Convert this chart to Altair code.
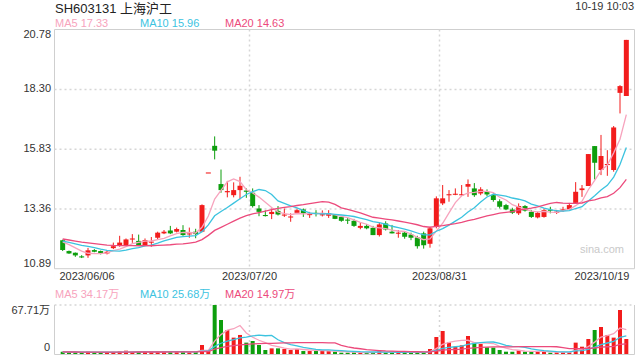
import altair as alt
import pandas as pd

# ---------------- data ----------------
pre_close = [12.35, 12.30, 12.28, 12.25, 12.20, 12.18, 12.15, 12.12, 12.10, 12.08,
             12.10, 12.05, 12.02, 12.06, 12.10, 12.12, 12.08, 12.05, 12.10]
pre_vol = [3.5, 3.0, 2.8, 3.2, 2.5, 2.7, 3.0, 2.6, 2.4, 2.8,
           3.0, 2.5, 2.7, 2.9, 3.1, 2.6, 2.4, 2.8, 3.0]

opens = [12.07, 11.62, 11.55, 11.40, 11.44, 11.66, 11.62, 11.52, 11.74, 11.86,
         11.86, 12.10, 12.04, 11.86, 11.98, 12.17, 12.35, 12.47, 12.42, 12.49,
         12.33, 12.42, 12.42, 14.87, 15.97, 14.39, 14.05, 13.93, 14.14, 14.12,
         14.03, 13.38, 13.11, 13.15, 13.28, 13.09, 13.03, 13.20, 13.34, 13.13,
         13.20, 13.12, 13.08, 13.11, 13.03, 12.92, 12.87, 12.58, 12.66, 12.58,
         12.28, 12.76, 12.42, 12.35, 12.38, 12.30, 12.18, 12.35, 11.92, 12.62,
         13.59, 13.95, 13.97, 13.95, 14.28, 14.21, 14.00, 14.07, 13.93, 13.68,
         13.52, 13.34, 13.18, 13.48, 13.24, 13.01, 13.03, 13.33, 13.22, 13.31,
         13.34, 13.61, 14.14, 14.31, 15.96, 14.97, 15.20, 14.97, 18.16, 18.03]
highs = [12.09, 11.64, 11.56, 11.45, 11.75, 11.70, 11.64, 11.66, 11.97, 12.25,
         12.14, 12.32, 12.30, 12.14, 12.20, 12.42, 12.49, 12.66, 12.59, 12.69,
         12.59, 12.54, 13.55, 14.87, 16.36, 14.99, 14.52, 14.46, 14.69, 14.21,
         14.21, 13.52, 13.30, 13.38, 13.48, 13.38, 13.18, 13.38, 13.38, 13.24,
         13.31, 13.30, 13.31, 13.13, 13.07, 13.00, 12.95, 12.78, 12.74, 12.66,
         12.78, 12.85, 12.70, 12.49, 12.45, 12.38, 12.25, 12.42, 12.62, 13.88,
         14.35, 14.14, 14.21, 14.35, 14.58, 14.43, 14.26, 14.17, 14.00, 13.76,
         13.57, 13.41, 13.59, 13.52, 13.31, 13.24, 13.38, 13.45, 13.32, 13.45,
         13.61, 14.47, 14.35, 15.63, 15.96, 16.42, 15.79, 16.79, 18.48, 20.35]
lows = [11.62, 11.50, 11.38, 11.33, 11.34, 11.57, 11.48, 11.48, 11.70, 11.80,
        11.82, 11.96, 11.84, 11.82, 11.80, 12.10, 12.32, 12.32, 12.39, 12.25,
        12.17, 12.15, 12.40, 14.87, 15.41, 14.03, 13.84, 13.84, 13.76, 13.82,
        13.42, 13.06, 13.05, 12.94, 13.09, 13.03, 12.83, 13.15, 13.03, 12.99,
        13.05, 13.05, 12.99, 12.94, 12.83, 12.74, 12.62, 12.52, 12.52, 12.28,
        12.22, 12.47, 12.35, 12.17, 12.13, 12.07, 11.72, 11.72, 11.76, 12.56,
        13.52, 13.66, 13.93, 13.89, 13.86, 13.86, 13.93, 13.89, 13.66, 13.38,
        13.31, 13.15, 13.11, 13.25, 12.99, 12.97, 13.00, 13.18, 13.15, 13.24,
        13.31, 13.59, 13.86, 14.31, 14.58, 14.76, 14.73, 14.90, 17.31, 18.03]
closes = [11.66, 11.52, 11.44, 11.37, 11.65, 11.59, 11.53, 11.59, 11.82, 11.97,
          12.10, 12.14, 11.86, 12.07, 12.01, 12.38, 12.42, 12.35, 12.53, 12.28,
          12.35, 12.32, 13.52, 14.87, 15.77, 14.14, 14.10, 14.14, 14.32, 14.07,
          13.48, 13.24, 13.08, 13.24, 13.13, 13.13, 13.05, 13.31, 13.18, 13.15,
          13.15, 13.14, 13.18, 12.95, 12.87, 12.89, 12.66, 12.66, 12.56, 12.28,
          12.72, 12.51, 12.35, 12.38, 12.21, 12.17, 11.82, 11.86, 12.56, 13.80,
          13.80, 13.97, 13.99, 13.97, 14.39, 13.93, 14.17, 13.96, 13.73, 13.45,
          13.34, 13.20, 13.48, 13.29, 13.03, 13.20, 13.31, 13.30, 13.25, 13.34,
          13.52, 14.07, 14.21, 15.63, 15.27, 15.55, 15.22, 16.73, 18.44, 20.35]
vols = [3.0, 2.5, 2.3, 1.8, 3.2, 2.0, 2.0, 1.8, 2.8, 3.5,
        4.6, 2.8, 3.2, 2.8, 2.6, 3.5, 2.8, 3.0, 3.2, 3.5,
        2.3, 2.8, 12.4, 4.1, 67.71, 47.0, 33.2, 22.6, 26.3, 15.7,
        18.0, 12.4, 5.5, 7.8, 7.8, 6.9, 5.5, 6.9, 4.1, 4.1,
        4.1, 4.6, 4.1, 3.2, 1.8, 1.8, 2.3, 1.8, 2.3, 1.8,
        5.1, 2.3, 2.3, 2.3, 2.3, 2.3, 2.3, 2.3, 6.9, 23.5,
        31.8, 16.1, 10.1, 12.0, 24.9, 15.7, 13.8, 9.2, 8.8, 5.5,
        3.2, 3.2, 5.1, 3.2, 3.2, 3.2, 3.2, 1.8, 2.3, 2.3,
        2.3, 15.7, 10.1, 20.7, 33.2, 37.3, 26.3, 22.6, 60.8, 20.7]

price_ticks = [10.89, 13.36, 15.83, 18.30, 20.78]
price_tick_labels = ["10.89", "13.36", "15.83", "18.30", "20.78"]
vol_ticks = [0, 67.71]
vol_tick_labels = ["0", "67.71万"]
date_idx = [0, 30, 60, 89]
date_labels = ["2023/06/06", "2023/07/20", "2023/08/31", "2023/10/19"]

title_text = "SH603131 上海沪工"
time_text = "10-19 10:03"
ma_price_labels = ["MA5 17.33", "MA10 15.96", "MA20 14.63"]
ma_vol_labels = ["MA5 34.17万", "MA10 25.68万", "MA20 14.97万"]

# ---------------- style ----------------
RED = "#f21c1c"
GREEN = "#0d9e0d"
MA_COLORS = ["#f7a3bd", "#3cc3df", "#ec4a7c"]
FONT = "Liberation Sans, Noto Sans CJK SC, sans-serif"
GRID = "#d6d6d6"
FRAME = "#cfcfcf"
TXT = "#333333"

n_pre = len(pre_close)
n = len(closes)
df = pd.DataFrame({
    "idx": list(range(-n_pre, 0)) + list(range(n)),
    "open": [None] * n_pre + opens,
    "high": [None] * n_pre + highs,
    "low": [None] * n_pre + lows,
    "close": pre_close + closes,
    "vol": pre_vol + vols,
})

X = alt.Scale(domain=[-0.5, n - 0.5], range=[54.5, 634.5], nice=False, zero=False)
YP = alt.Scale(domain=[price_ticks[0], price_ticks[-1]], range=[268.7, 29.5], nice=False, zero=False)
YV = alt.Scale(domain=[vol_ticks[0], vol_ticks[-1]], range=[354, 305], nice=False, zero=False)

base = (
    alt.Chart(df)
    .transform_window(ma5="mean(close)", vma5="mean(vol)", frame=[-4, 0], sort=[alt.SortField("idx")])
    .transform_window(ma10="mean(close)", vma10="mean(vol)", frame=[-9, 0], sort=[alt.SortField("idx")])
    .transform_window(ma20="mean(close)", vma20="mean(vol)", frame=[-19, 0], sort=[alt.SortField("idx")])
    .transform_filter("datum.idx >= 0")
    .transform_calculate(
        dir="datum.close >= datum.open ? 'up' : 'down'",
        bt="max(datum.open, datum.close)",
        bb="max(datum.open, datum.close) - min(datum.open, datum.close) < 0.045 ? max(datum.open, datum.close) - 0.045 : min(datum.open, datum.close)",
    )
)

xenc = alt.X("idx:Q", scale=X, axis=None)
color = alt.Color("dir:N", scale=alt.Scale(domain=["up", "down"], range=[RED, GREEN]), legend=None)

one = pd.DataFrame({"a": [0]})


def seg(x1, x2, y1, y2, c=FRAME, dash=None, w=1):
    kw = dict(color=c, strokeWidth=w)
    if dash is not None:
        kw["strokeDash"] = dash
    return alt.Chart(one).mark_rule(**kw).encode(
        x=alt.value(x1), x2=alt.value(x2), y=alt.value(y1), y2=alt.value(y2))


layers = []

# frames
layers += [
    seg(54.5, 634.5, 29.5, 29.5), seg(54.5, 54.5, 29.5, 268.7), seg(634.5, 634.5, 29.5, 268.7),
    seg(54.5, 634.5, 268.7, 268.7),
    seg(54.5, 634.5, 305, 305, c=GRID, dash=[2, 3], w=1.5),
    seg(54.5, 54.5, 305, 354.5), seg(634.5, 634.5, 305, 354.5), seg(54.5, 634.5, 354.5, 354.5),
]

# horizontal grid (price)
grid_df = pd.DataFrame({"v": price_ticks[1:-1]})
layers.append(
    alt.Chart(grid_df).mark_rule(color=GRID, strokeDash=[2, 3], strokeWidth=1.5).encode(
        y=alt.Y("v:Q", scale=YP, axis=None), x=alt.value(54.5), x2=alt.value(634.5))
)

# vertical grid at date boundaries
vg_df = pd.DataFrame({"i": date_idx[1:-1]})
for y1, y2 in [(29.5, 268.7), (305, 354)]:
    layers.append(
        alt.Chart(vg_df).transform_calculate(xb="datum.i - 0.5")
        .mark_rule(color=GRID, strokeDash=[2, 3], strokeWidth=1.5)
        .encode(x=alt.X("xb:Q", scale=X, axis=None), y=alt.value(y1), y2=alt.value(y2))
    )

# candles
layers.append(base.mark_rule(strokeWidth=1).encode(
    x=xenc, y=alt.Y("low:Q", scale=YP, axis=None), y2="high:Q", color=color))
layers.append(base.mark_bar(size=5).encode(
    x=xenc, y=alt.Y("bb:Q", scale=YP, axis=None), y2="bt:Q", color=color))

# price MAs
for f, c in zip(["ma5", "ma10", "ma20"], MA_COLORS):
    layers.append(base.mark_line(color=c, strokeWidth=1.3).encode(
        x=xenc, y=alt.Y(f + ":Q", scale=YP, axis=None)))

# volume bars
layers.append(base.mark_bar(size=4).encode(
    x=xenc, y=alt.Y("vol:Q", scale=YV, axis=None), color=color))
for f, c in zip(["vma5", "vma10", "vma20"], MA_COLORS):
    layers.append(base.mark_line(color=c, strokeWidth=1.3).encode(
        x=xenc, y=alt.Y(f + ":Q", scale=YV, axis=None)))

# price axis labels
pt = pd.DataFrame({"v": price_ticks, "t": price_tick_labels})
lab = dict(font=FONT, fontSize=11, color=TXT, align="right")
layers.append(alt.Chart(pt).transform_filter(f"datum.v > {price_ticks[0]} && datum.v < {price_ticks[-1]}")
              .mark_text(baseline="middle", **lab)
              .encode(y=alt.Y("v:Q", scale=YP, axis=None), x=alt.value(51), text="t:N"))
layers.append(alt.Chart(pt).transform_filter(f"datum.v == {price_ticks[-1]}")
              .mark_text(baseline="top", dy=-1, **lab)
              .encode(y=alt.Y("v:Q", scale=YP, axis=None), x=alt.value(51), text="t:N"))
layers.append(alt.Chart(pt).transform_filter(f"datum.v == {price_ticks[0]}")
              .mark_text(baseline="bottom", **lab)
              .encode(y=alt.Y("v:Q", scale=YP, axis=None), x=alt.value(51), text="t:N"))

# volume axis labels
vt = pd.DataFrame({"v": vol_ticks, "t": vol_tick_labels})
layers.append(alt.Chart(vt).transform_filter(f"datum.v == {vol_ticks[-1]}")
              .mark_text(baseline="top", **lab)
              .encode(y=alt.Y("v:Q", scale=YV, axis=None), x=alt.value(50), text="t:N"))
layers.append(alt.Chart(vt).transform_filter(f"datum.v == {vol_ticks[0]}")
              .mark_text(baseline="bottom", dy=-1, **lab)
              .encode(y=alt.Y("v:Q", scale=YV, axis=None), x=alt.value(50), text="t:N"))

# date labels
dd = pd.DataFrame({"i": date_idx, "t": date_labels, "k": list(range(len(date_idx)))})
dlab = dict(font=FONT, fontSize=11, color=TXT, baseline="middle")
last_k = len(date_idx) - 1
layers.append(alt.Chart(dd).transform_filter("datum.k == 0").transform_calculate(xp="datum.i - 0.5")
              .mark_text(align="left", **dlab)
              .encode(x=alt.X("xp:Q", scale=X, axis=None), y=alt.value(277), text="t:N"))
layers.append(alt.Chart(dd).transform_filter(f"datum.k > 0 && datum.k < {last_k}")
              .transform_calculate(xp="datum.i - 0.5")
              .mark_text(align="center", **dlab)
              .encode(x=alt.X("xp:Q", scale=X, axis=None), y=alt.value(277), text="t:N"))
layers.append(alt.Chart(dd).transform_filter(f"datum.k == {last_k}").transform_calculate(xp="datum.i + 0.5")
              .mark_text(align="right", **dlab)
              .encode(x=alt.X("xp:Q", scale=X, axis=None), y=alt.value(277), text="t:N"))

# header texts
def txt(s, x, y, size=11, c=TXT, align="left"):
    return alt.Chart(pd.DataFrame({"t": [s]})).mark_text(
        font=FONT, fontSize=size, color=c, align=align, baseline="middle").encode(
        x=alt.value(x), y=alt.value(y), text="t:N")


layers.append(txt(title_text, 55, 9, size=13, c="#222222"))
layers.append(txt(time_text, 634, 7, size=11, align="right"))
for s, xx, c in zip(ma_price_labels, [55, 140, 225], MA_COLORS):
    layers.append(txt(s, xx, 23.5, c=c))
for s, xx, c in zip(ma_vol_labels, [55, 140, 225], MA_COLORS):
    layers.append(txt(s, xx, 294.5, c=c))
layers.append(txt("sina.com", 580, 250, size=11, c="#c9c9c9"))

chart = (
    alt.layer(*layers)
    .resolve_scale(y="independent")
    .properties(width=640, height=360, autosize=alt.AutoSizeParams(type="none"),
                padding={"left": 0, "top": 0, "right": 0, "bottom": 0}, background="white")
    .configure_view(strokeWidth=0)
)

chart.save("out.html", embed_options={"renderer": "svg", "actions": False})
